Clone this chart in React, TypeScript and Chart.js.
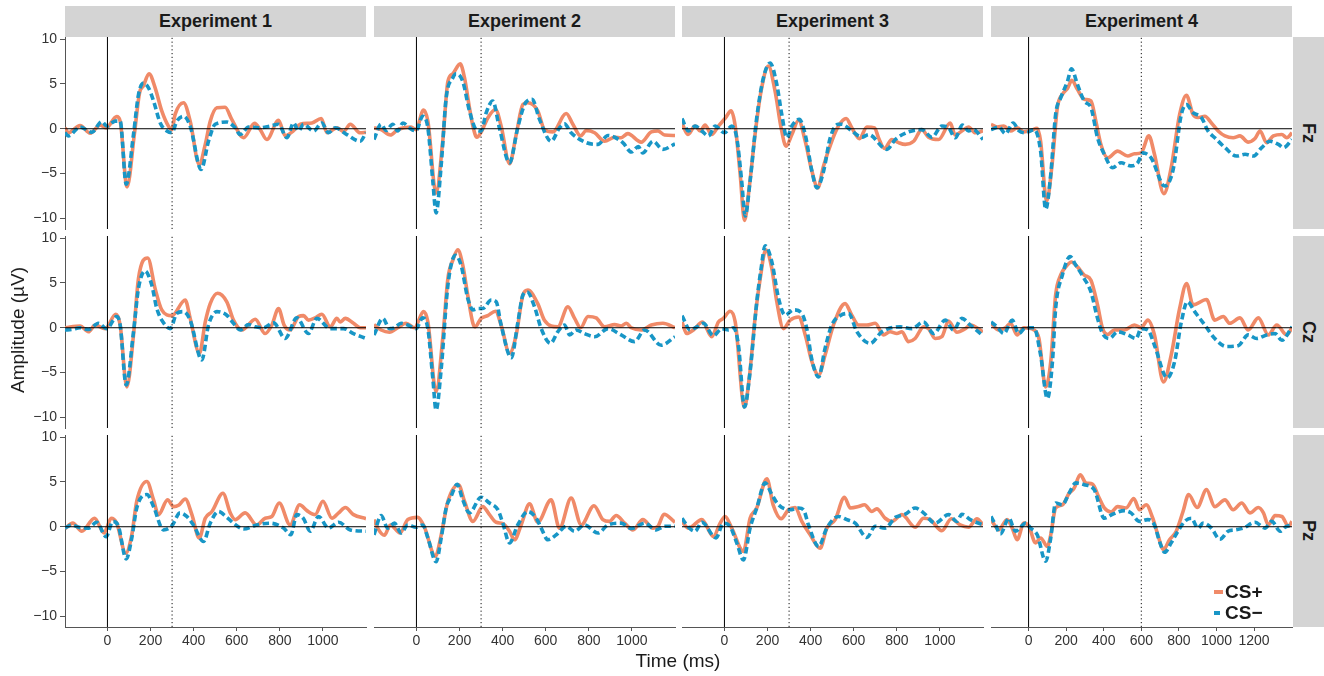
import React, { useEffect, useRef } from "react";
import { Chart, registerables } from "chart.js";
Chart.register(...registerables);

// ---------- data ----------
const experiments = ["Experiment 1", "Experiment 2", "Experiment 3", "Experiment 4"];
const electrodes = ["Fz", "Cz", "Pz"];
const conditions = ["CS+", "CS\u2212"];
const xRangeShort = [-197, 1200];
const xRangeLong = [-200, 1402];
const yRange = [-11.2, 10.25];
const yTicks = [-10, -5, 0, 5, 10];
const xTicksShort = [0, 200, 400, 600, 800, 1000];
const xTicksLong = [0, 200, 400, 600, 800, 1000, 1200];
const csOnset = [300, 300, 300, 600];

// Fz
const e1FzPlus = [[-197,0.1],[-181,-0.45],[-127,0.35],[-80,-0.5],[-34,0.4],[-6,0.1],[43,1.35],[59,0.85],[91,-6.5],[125,-0.6],[149,4.0],[167,4.8],[193,6.15],[221,4.6],[252,2.0],[283,0.3],[299,-0.1],[314,1.6],[353,2.9],[384,0.85],[426,-4.0],[454,-1.75],[477,0.85],[508,2.35],[546,2.4],[577,1.05],[632,-1.0],[683,0.6],[709,-0.1],[740,-1.2],[794,0.95],[825,-0.8],[864,-0.2],[895,0.5],[949,0.65],[992,1.15],[1019,-0.45],[1065,0.1],[1096,-0.3],[1127,0.5],[1173,-0.45],[1200,-0.4]];
const e1FzMinus = [[-197,-0.45],[-181,-0.8],[-127,0.2],[-73,-0.4],[-26,0.8],[-3,0.3],[36,0.85],[59,0.85],[87,-6.2],[121,-0.6],[144,3.8],[167,5.1],[190,4.6],[214,3.1],[245,0.65],[276,-0.25],[299,-0.45],[322,0.85],[353,1.4],[384,0.3],[435,-4.55],[469,-1.4],[500,0.5],[554,0.75],[593,0.1],[616,-0.65],[655,0.2],[701,0.1],[755,0.3],[794,0.5],[833,-1.0],[864,0.65],[887,-0.25],[910,0.5],[957,-0.25],[995,0.65],[1026,-0.45],[1057,0.1],[1111,-0.65],[1173,-1.4],[1200,-0.45]];
const e2FzPlus = [[-197,0.1],[-164,-0.1],[-121,-0.7],[-87,-0.1],[-25,0.2],[-2,-0.1],[33,2.1],[53,0.85],[91,-7.2],[122,-1.4],[146,5.3],[169,6.15],[203,7.25],[223,5.7],[246,2.35],[262,0.3],[280,-0.95],[303,-0.25],[331,1.2],[367,2.15],[393,0.3],[432,-3.9],[463,-0.65],[494,2.7],[517,2.9],[563,2.0],[594,-0.1],[633,-0.35],[695,1.7],[726,0.5],[762,-0.8],[788,-0.2],[827,-0.45],[873,-1.4],[920,-0.95],[950,-1.0],[981,-0.55],[1043,-1.5],[1090,-0.35],[1121,-0.25],[1152,-0.7],[1200,-0.75]];
const e2FzMinus = [[-197,-1.2],[-164,0.5],[-141,-0.2],[-110,0.5],[-87,-0.25],[-63,0.65],[-33,0.1],[-2,-0.25],[29,1.4],[53,0.1],[76,-5.85],[91,-9.4],[115,-4.0],[138,3.45],[169,5.7],[184,6.15],[215,5.3],[246,2.0],[277,-0.1],[300,-0.25],[324,1.8],[354,3.1],[385,0.1],[432,-3.8],[470,0.1],[502,2.7],[537,3.3],[571,1.05],[625,-1.4],[664,0.1],[687,0.55],[718,-0.45],[788,-1.55],[842,-1.75],[889,-0.75],[920,-0.95],[960,-1.6],[997,-2.6],[1030,-2.0],[1050,-2.7],[1098,-1.4],[1144,-2.3],[1200,-1.7]];
const e3FzPlus = [[-197,0.65],[-170,-0.65],[-136,0.3],[-113,-0.25],[-90,0.4],[-59,-0.65],[-28,0.3],[3,1.15],[31,2.0],[50,0.3],[73,-5.1],[93,-10.25],[115,-6.6],[142,-0.65],[170,4.2],[204,7.0],[235,4.2],[263,0.1],[286,-1.95],[313,-0.65],[344,0.95],[375,-1.4],[406,-4.75],[433,-6.6],[460,-4.15],[498,-1.4],[529,0.3],[565,1.15],[591,0.1],[627,-1.1],[661,0.2],[697,0.1],[715,-1.0],[743,-2.2],[777,-1.2],[808,-1.55],[839,-1.75],[878,-1.4],[916,-0.1],[947,-0.95],[994,-1.2],[1048,0.65],[1071,-0.7],[1102,-0.25],[1133,0.2],[1164,-0.45],[1200,-0.25]];
const e3FzMinus = [[-197,1.15],[-167,-0.25],[-136,0.3],[-105,-0.25],[-74,-0.8],[-43,0.3],[0,-0.45],[34,0.3],[57,-1.0],[80,-5.85],[96,-9.75],[119,-5.85],[150,1.25],[181,5.7],[212,7.35],[243,4.95],[266,1.6],[290,-1.0],[313,0.3],[347,1.05],[375,-0.65],[406,-4.75],[429,-6.6],[460,-4.75],[491,-1.0],[529,0.5],[545,0.5],[591,-0.25],[638,-0.95],[669,-0.65],[754,-2.3],[793,-1.2],[854,-0.35],[916,-0.1],[963,-0.95],[1009,0.3],[1040,0.1],[1071,-1.0],[1105,0.4],[1133,-0.25],[1156,-0.1],[1200,-1.2]];
const e4FzPlus = [[-200,0.5],[-168,0.2],[-132,0.3],[-96,-0.25],[-61,0.1],[-25,-0.35],[11,-0.2],[46,0.05],[64,-1.4],[96,-8.1],[127,-3.6],[153,2.35],[180,3.85],[207,4.5],[230,5.4],[260,4.4],[296,3.3],[332,3.1],[358,0.85],[385,-1.75],[421,-3.25],[474,-2.5],[528,-3.05],[563,-2.8],[599,-2.7],[640,-0.8],[670,-2.85],[720,-7.25],[759,-4.35],[804,1.6],[840,3.75],[875,1.6],[902,1.25],[938,1.4],[973,0.65],[1009,-0.25],[1045,-0.8],[1089,-1.0],[1125,-0.8],[1169,-1.5],[1205,-1.1],[1232,-0.25],[1267,-1.55],[1303,-0.8],[1348,-0.65],[1374,-1.0],[1402,-0.45]];
const e4FzMinus = [[-200,-0.1],[-159,0.2],[-123,-0.55],[-82,0.65],[-52,-0.2],[-16,-0.45],[29,-0.1],[64,-2.5],[91,-9.0],[118,-5.1],[144,1.6],[171,3.45],[207,5.3],[228,6.7],[260,4.95],[296,3.1],[332,2.35],[367,-1.0],[403,-2.85],[447,-4.35],[492,-3.8],[545,-4.15],[581,-3.8],[608,-2.7],[652,-3.25],[724,-6.4],[768,-4.7],[813,1.6],[840,2.7],[875,1.8],[920,1.25],[955,-0.25],[991,-1.0],[1045,-2.1],[1107,-3.05],[1152,-2.85],[1196,-3.05],[1241,-2.1],[1285,-1.4],[1330,-1.75],[1357,-2.1],[1402,-1.2]];

// Cz
const e1CzPlus = [[-197,0],[-127,0.2],[-88,-0.45],[-57,0.3],[-11,-0.1],[39,1.5],[59,0.3],[90,-6.6],[121,-0.8],[144,5.5],[187,7.8],[221,4.4],[252,2.0],[299,1.35],[361,3.1],[384,1.05],[427,-2.85],[454,0.65],[477,2.7],[511,3.85],[554,2.9],[585,0.85],[624,-0.25],[686,0.95],[732,-0.65],[763,0.3],[794,2.15],[820,0.3],[848,-0.25],[887,1.25],[910,1.35],[933,0.85],[964,1.1],[995,1.5],[1034,0.1],[1065,1.05],[1080,0.65],[1104,1.05],[1142,0.5],[1173,0],[1200,0]];
const e1CzMinus = [[-197,-0.25],[-166,-0.2],[-127,0],[-88,-0.2],[-42,0.5],[-3,-0.1],[43,1.25],[59,0.3],[87,-6.4],[121,-0.45],[144,4.4],[175,6.35],[206,4.75],[229,2.15],[268,0.3],[291,-0.1],[322,1.6],[353,1.8],[384,0.85],[438,-3.6],[469,0.3],[508,1.8],[554,1.4],[585,0.5],[616,-0.25],[655,0.35],[686,0.1],[724,0],[771,0.55],[825,-1.2],[879,1.1],[933,-0.65],[972,1.05],[1034,-0.1],[1096,-0.1],[1142,-0.65],[1200,-1.2]];
const e2CzPlus = [[-197,0.35],[-164,-0.25],[-125,-0.5],[-87,0],[-48,0.5],[-9,0],[33,1.8],[53,0.65],[91,-7.15],[122,-1.2],[146,5.5],[169,7.55],[192,8.7],[215,7.0],[238,3.65],[262,0.5],[272,0.1],[300,1.05],[331,1.35],[367,1.85],[393,0.3],[432,-2.85],[463,-0.8],[494,3.65],[517,4.2],[563,2.7],[594,0.85],[656,0.1],[703,2.35],[734,1.05],[762,0],[796,1.25],[834,1.1],[873,0.1],[920,0.35],[950,0.2],[974,0.5],[997,0],[1043,-0.25],[1090,0.3],[1144,0.5],[1200,0]];
const e2CzMinus = [[-197,-0.8],[-156,1.05],[-125,-0.1],[-102,0],[-71,0.5],[-40,0.3],[-2,-0.1],[29,1.1],[53,-0.1],[76,-5.65],[91,-9.2],[115,-4.55],[146,4.75],[181,8.1],[207,7.0],[238,3.3],[262,2.0],[285,2.15],[308,2.15],[347,3.1],[370,2.9],[393,0.3],[440,-3.35],[471,0.65],[494,3.65],[514,4.0],[548,2.35],[579,-0.1],[622,-1.75],[656,-0.45],[687,0.3],[711,-0.8],[741,-0.25],[780,-0.65],[827,-1.0],[889,-0.1],[950,-0.8],[1012,-1.55],[1059,-0.25],[1136,-1.95],[1200,-1.0]];
const e3CzPlus = [[-197,0.65],[-175,-0.65],[-144,-0.25],[-102,0.65],[-59,-1.0],[-28,0.65],[-5,1.05],[26,1.85],[50,0.65],[93,-8.85],[115,-5.65],[142,1.05],[166,5.5],[192,8.7],[220,6.6],[243,2.9],[274,-0.1],[305,0.85],[344,1.2],[375,-0.8],[406,-3.8],[437,-5.3],[467,-3.05],[506,0.3],[560,2.7],[591,1.4],[622,0.3],[661,0.3],[700,0.5],[738,-0.8],[769,-0.45],[800,-0.65],[824,-0.45],[854,-1.55],[885,-1.2],[924,0.1],[947,-0.1],[978,-1.2],[1009,-1.0],[1040,0.75],[1079,-0.5],[1118,-0.1],[1141,0.3],[1200,-0.45]];
const e3CzMinus = [[-197,1.35],[-159,-0.25],[-128,0.1],[-98,0.5],[-51,-0.9],[-12,-0.1],[19,-0.25],[42,0],[65,-1.95],[93,-8.85],[119,-4.9],[150,2.9],[170,6.6],[189,9.15],[220,7.35],[251,3.3],[282,1.4],[320,2.0],[359,1.6],[382,-0.1],[406,-3.6],[437,-5.5],[467,-2.3],[498,0.3],[537,1.35],[576,1.6],[615,-0.45],[676,-1.75],[731,-0.45],[816,0.1],[870,-0.1],[924,0.65],[971,-0.65],[1025,0.85],[1063,-0.25],[1102,1.05],[1141,0.3],[1200,-0.9]];
const e4CzPlus = [[-200,0.5],[-159,-0.25],[-123,0],[-96,0.5],[-61,-0.8],[-25,0],[29,-0.25],[55,-1.2],[91,-6.6],[118,-3.8],[144,3.65],[171,5.9],[198,6.8],[228,7.35],[260,6.8],[296,5.9],[332,5.3],[367,2.55],[394,-0.1],[421,-0.75],[456,-0.25],[510,-0.25],[563,0.3],[599,0],[635,0.85],[670,-0.8],[718,-6.05],[759,-3.05],[804,2.15],[841,4.95],[875,2.55],[947,3.15],[991,0.85],[1036,1.25],[1071,0.5],[1125,1.1],[1169,-0.25],[1223,1.1],[1276,-0.8],[1321,0.3],[1374,-0.8],[1402,0]];
const e4CzMinus = [[-200,0.65],[-168,0.1],[-132,-0.65],[-87,0.85],[-52,-0.65],[-16,0],[29,0],[64,-3.05],[100,-7.9],[127,-3.8],[144,2.15],[180,5.9],[221,7.95],[251,7.0],[296,5.5],[332,4.0],[367,1.05],[394,-0.65],[430,-1.2],[474,-0.45],[528,-0.8],[572,-1.2],[599,-0.1],[635,-0.25],[670,-1.95],[738,-5.6],[777,-3.8],[813,0.65],[845,2.9],[884,1.8],[938,0.3],[991,-1.2],[1053,-2.1],[1116,-2.0],[1169,-0.8],[1214,-1.2],[1267,-0.8],[1312,-0.65],[1348,-1.4],[1402,0.1]];

// Pz
const e1PzPlus = [[-197,-0.2],[-161,0.4],[-119,-0.5],[-60,0.95],[-15,-0.7],[-3,-0.15],[17,0.95],[43,0.4],[85,-2.95],[113,-0.9],[136,2.85],[183,5.05],[214,3.0],[237,1.35],[279,3.0],[307,2.25],[330,2.4],[361,3.1],[392,1.35],[426,-1.25],[454,0.95],[485,1.7],[536,3.75],[570,1.55],[593,0.8],[639,1.55],[693,0.2],[732,0.95],[763,1.15],[797,2.65],[848,0.2],[892,2.45],[926,1.8],[964,1.35],[1000,2.85],[1042,0.95],[1073,1.55],[1104,2.15],[1142,1.35],[1200,0.9]];
const e1PzMinus = [[-197,-0.15],[-166,0.2],[-127,-0.1],[-88,-0.15],[-50,0.5],[-6,-1.1],[25,0.6],[51,0.05],[87,-3.6],[113,-1.25],[136,2.1],[183,3.6],[214,2.25],[260,-0.35],[299,0.1],[337,1.55],[368,1.15],[399,0.2],[446,-1.65],[477,0.4],[515,1.7],[554,1.05],[585,0.4],[632,-0.25],[693,0.2],[755,0.4],[817,-0.15],[851,-0.9],[879,1.35],[910,0.9],[941,-0.5],[980,1.15],[1026,-0.15],[1073,0.5],[1127,-0.35],[1200,-0.5]];
const e2PzPlus = [[-197,0.8],[-180,-0.15],[-149,-0.95],[-121,0.2],[-76,-0.7],[-40,0.8],[6,1.05],[37,-0.05],[88,-3.3],[115,-0.9],[146,2.85],[195,4.7],[223,2.85],[262,0.6],[308,2.25],[339,1.35],[370,0.5],[401,0.35],[432,-0.5],[455,-1.45],[486,0.2],[525,2.55],[563,0.5],[625,3.0],[664,-0.15],[718,3.2],[765,0.2],[824,2.35],[865,0.8],[896,0.6],[927,1.25],[966,0.4],[1005,-0.35],[1051,0.8],[1098,-0.15],[1121,0.05],[1149,1.4],[1200,0.5]];
const e2PzMinus = [[-197,-0.9],[-164,1.25],[-133,-0.15],[-102,0.4],[-71,-0.7],[-40,0.2],[-2,-0.05],[29,0.2],[53,-1.25],[91,-3.9],[115,-1.25],[138,2.1],[161,3.4],[189,4.75],[215,3.0],[246,1.55],[300,3.3],[339,2.65],[378,1.9],[401,0.4],[432,-1.8],[470,0.2],[517,1.7],[556,0.95],[579,-0.15],[610,-1.45],[649,-0.9],[695,0.05],[734,-0.5],[780,0.2],[842,-0.7],[889,0.2],[950,0.4],[997,-0.2],[1059,0.4],[1113,-0.35],[1152,0.05],[1200,0.05]];
const e3PzPlus = [[-197,0.6],[-167,-0.15],[-105,0.8],[-51,-1.1],[-20,0.4],[3,1.15],[34,-0.15],[88,-2.75],[119,0.95],[150,2.1],[197,5.35],[226,2.45],[263,0.9],[297,1.9],[328,2.15],[359,0.6],[398,-0.9],[444,-2.4],[475,-0.15],[514,0.8],[557,3.3],[584,2.1],[622,2.25],[650,2.45],[684,1.7],[707,2.0],[746,0.95],[777,0.6],[824,1.35],[885,-0.05],[924,0.95],[955,0.8],[1009,-0.45],[1053,0.9],[1094,0.2],[1133,-0.05],[1172,0.9],[1200,0.2]];
const e3PzMinus = [[-197,0.95],[-167,-0.05],[-136,-0.5],[-105,0.5],[-39,-1.25],[-5,0.4],[26,0.05],[57,-1.8],[88,-3.7],[119,-0.15],[150,2.1],[189,4.9],[220,3.6],[251,2.45],[305,1.9],[344,2.1],[367,1.9],[390,0.2],[437,-2.2],[475,-0.15],[529,1.15],[568,0.8],[607,0.4],[661,-1.2],[700,0.05],[746,-0.15],[793,1.05],[839,1.4],[885,2.1],[924,1.55],[978,0.4],[1040,1.35],[1079,0.6],[1102,1.4],[1141,0.8],[1200,0.2]];
const e4PzPlus = [[-200,0.8],[-176,0.05],[-159,-0.35],[-114,0.8],[-87,-0.15],[-61,-1.45],[-25,0.4],[2,0.05],[37,-1.8],[64,-1.25],[100,-2.2],[118,-0.9],[144,2.1],[180,2.45],[216,3.75],[242,4.3],[275,5.8],[305,4.9],[340,4.75],[376,3.2],[403,2.1],[439,1.65],[474,2.25],[519,2.1],[560,3.15],[590,1.9],[626,2.45],[661,0.95],[688,-0.9],[718,-2.55],[750,-1.45],[786,-0.5],[822,1.7],[852,3.6],[897,2.15],[947,4.15],[991,2.25],[1045,3.0],[1089,1.9],[1134,2.65],[1178,1.55],[1223,2.15],[1250,1.55],[1276,0.2],[1312,1.25],[1348,1.15],[1383,0.05],[1402,0.6]];
const e4PzMinus = [[-200,1.15],[-176,0.2],[-150,-0.8],[-105,0.95],[-70,-0.5],[-43,-0.05],[-16,0.4],[11,-0.15],[46,-0.9],[91,-3.85],[118,-1.25],[144,2.65],[180,2.45],[216,3.75],[251,4.9],[296,4.7],[349,4.15],[403,0.95],[447,1.4],[510,1.8],[545,1.55],[590,0.6],[635,0.8],[670,0.2],[697,-1.65],[724,-2.85],[759,-1.8],[795,-0.5],[831,0.6],[866,0.95],[902,-0.15],[929,0.4],[973,-0.15],[1018,-1.4],[1062,-0.5],[1098,-0.35],[1143,-0.15],[1205,0.5],[1258,-0.15],[1294,0.6],[1339,-0.5],[1365,-0.05],[1402,0.2]];

const plusSeries = [
  [e1FzPlus, e2FzPlus, e3FzPlus, e4FzPlus],
  [e1CzPlus, e2CzPlus, e3CzPlus, e4CzPlus],
  [e1PzPlus, e2PzPlus, e3PzPlus, e4PzPlus],
];
const minusSeries = [
  [e1FzMinus, e2FzMinus, e3FzMinus, e4FzMinus],
  [e1CzMinus, e2CzMinus, e3CzMinus, e4CzMinus],
  [e1PzMinus, e2PzMinus, e3PzMinus, e4PzMinus],
];

// ---------- style / layout ----------
const ORANGE = "#F08A68";
const BLUE = "#1896C6";
const FONT = "'Liberation Sans', Arial, Helvetica, sans-serif";
const COL_LEFT = [65, 374, 682, 991];
const PANEL_W = 301;
const ROW_TOP = [37, 236, 435];
const PANEL_H = 192;
const M = 12;
const Y_AXIS_W = 65;
const X_AXIS_H = 34;
const STRIP_BG = "#D4D4D4";

const fmt = (v: number) => (v < 0 ? "\u2212" + Math.abs(v) : String(v));

function Panel({ row, col }: { row: number; col: number }) {
  const ref = useRef<HTMLCanvasElement>(null);
  const showY = col === 0;
  const showX = row === 2;
  const leftExtra = showY ? Y_AXIS_W : M;
  const bottomExtra = showX ? X_AXIS_H : M;
  const w = leftExtra + PANEL_W + M;
  const h = M + PANEL_H + bottomExtra;
  const left = COL_LEFT[col] - leftExtra;
  const top = ROW_TOP[row] - M;

  useEffect(() => {
    const isLong = col === 3;
    const xr = isLong ? xRangeLong : xRangeShort;
    const xt = isLong ? xTicksLong : xTicksShort;
    const toXY = (arr: number[][]) => arr.map(([x, y]) => ({ x, y }));
    const axisColor = "#555";
    const tickFont = { family: FONT, size: 14 };
    const xScale: any = {
      type: "linear",
      min: xr[0],
      max: xr[1],
      display: showX,
    };
    if (showX) {
      Object.assign(xScale, {
        afterFit: (s: any) => { s.height = X_AXIS_H; },
        afterBuildTicks: (s: any) => { s.ticks = xt.map((v) => ({ value: v })); },
        ticks: { callback: (v: any) => fmt(Number(v)), color: "#333", font: tickFont, padding: 2, maxRotation: 0, minRotation: 0, autoSkip: false },
        grid: { display: true, drawOnChartArea: false, drawTicks: true, tickLength: 4, color: axisColor },
        border: { display: true, color: axisColor, width: 1 },
      });
    }
    const yScale: any = {
      type: "linear",
      min: yRange[0],
      max: yRange[1],
      display: showY,
    };
    if (showY) {
      Object.assign(yScale, {
        afterFit: (s: any) => { s.width = Y_AXIS_W; },
        afterBuildTicks: (s: any) => { s.ticks = yTicks.map((v) => ({ value: v })); },
        ticks: { callback: (v: any) => fmt(Number(v)), color: "#333", font: tickFont, padding: 3, autoSkip: false },
        grid: { display: true, drawOnChartArea: false, drawTicks: true, tickLength: 5, color: axisColor },
        border: { display: true, color: axisColor, width: 1 },
      });
    }
    const chart = new Chart(ref.current as HTMLCanvasElement, {
      type: "line",
      data: {
        datasets: [
          { data: [{ x: xr[0], y: 0 }, { x: xr[1], y: 0 }], borderColor: "#000", borderWidth: 1, pointRadius: 0, tension: 0 },
          { data: [{ x: 0, y: yRange[0] }, { x: 0, y: yRange[1] }], borderColor: "#000", borderWidth: 1, pointRadius: 0, tension: 0 },
          { data: [{ x: csOnset[col], y: yRange[0] }, { x: csOnset[col], y: yRange[1] }], borderColor: "#111", borderWidth: 1, borderDash: [1.2, 2.6], pointRadius: 0, tension: 0 },
          { label: conditions[1], data: toXY(minusSeries[row][col]), borderColor: BLUE, borderWidth: 3.6, borderDash: [6.5, 3.5], pointRadius: 0, cubicInterpolationMode: "monotone", borderCapStyle: "butt", borderJoinStyle: "round" },
          { label: conditions[0], data: toXY(plusSeries[row][col]), borderColor: ORANGE, borderWidth: 3.6, pointRadius: 0, cubicInterpolationMode: "monotone", borderJoinStyle: "round" },
        ],
      } as any,
      options: {
        animation: false,
        responsive: false,
        maintainAspectRatio: false,
        events: [],
        layout: { padding: { left: showY ? 0 : M, right: M, top: M, bottom: showX ? 0 : M } },
        plugins: { legend: { display: false }, tooltip: { enabled: false } },
        scales: { x: xScale, y: yScale },
      } as any,
    });
    return () => chart.destroy();
  }, [row, col]);

  return (
    <canvas
      ref={ref}
      width={w}
      height={h}
      style={{ position: "absolute", left, top, width: w, height: h }}
    />
  );
}

export default function App() {
  const panels = [];
  for (let r = 0; r < 3; r++) for (let c = 0; c < 4; c++) panels.push(<Panel key={r + "-" + c} row={r} col={c} />);
  return (
    <div style={{ position: "absolute", left: 0, top: 0, width: 1324, height: 676, background: "#fff", overflow: "hidden", fontFamily: FONT }}>
      {experiments.map((e, c) => (
        <div key={e} style={{ position: "absolute", left: COL_LEFT[c], top: 6, width: PANEL_W, height: 31, background: STRIP_BG, display: "flex", alignItems: "center", justifyContent: "center", fontWeight: "bold", fontSize: 18, color: "#1a1a1a" }}>{e}</div>
      ))}
      {electrodes.map((el, r) => (
        <div key={el} style={{ position: "absolute", left: 1293, top: ROW_TOP[r], width: 31, height: PANEL_H, background: STRIP_BG, display: "flex", alignItems: "center", justifyContent: "center" }}>
          <span style={{ writingMode: "vertical-rl", fontWeight: "bold", fontSize: 18, color: "#1a1a1a" }}>{el}</span>
        </div>
      ))}
      {panels}
      <div style={{ position: "absolute", left: 18, top: 330, transform: "translate(-50%, -50%) rotate(-90deg)", whiteSpace: "nowrap", fontSize: 19, color: "#1a1a1a" }}>Amplitude (µV)</div>
      <div style={{ position: "absolute", left: 678, top: 661, transform: "translate(-50%, -50%)", whiteSpace: "nowrap", fontSize: 19, color: "#1a1a1a" }}>Time (ms)</div>
      <div style={{ position: "absolute", left: 1214, top: 581, fontWeight: "bold", fontSize: 19, color: "#1a1a1a", lineHeight: "21px" }}>
        <div style={{ display: "flex", alignItems: "center" }}>
          <span style={{ display: "inline-block", width: 9, height: 0, borderTop: `4px solid ${ORANGE}`, marginRight: 2 }} />
          <span>{conditions[0]}</span>
        </div>
        <div style={{ display: "flex", alignItems: "center" }}>
          <span style={{ display: "inline-flex", width: 9, marginRight: 2 }}>
            <span style={{ display: "inline-block", width: 6, height: 0, borderTop: `4px solid ${BLUE}` }} />
          </span>
          <span>{conditions[1]}</span>
        </div>
      </div>
    </div>
  );
}
